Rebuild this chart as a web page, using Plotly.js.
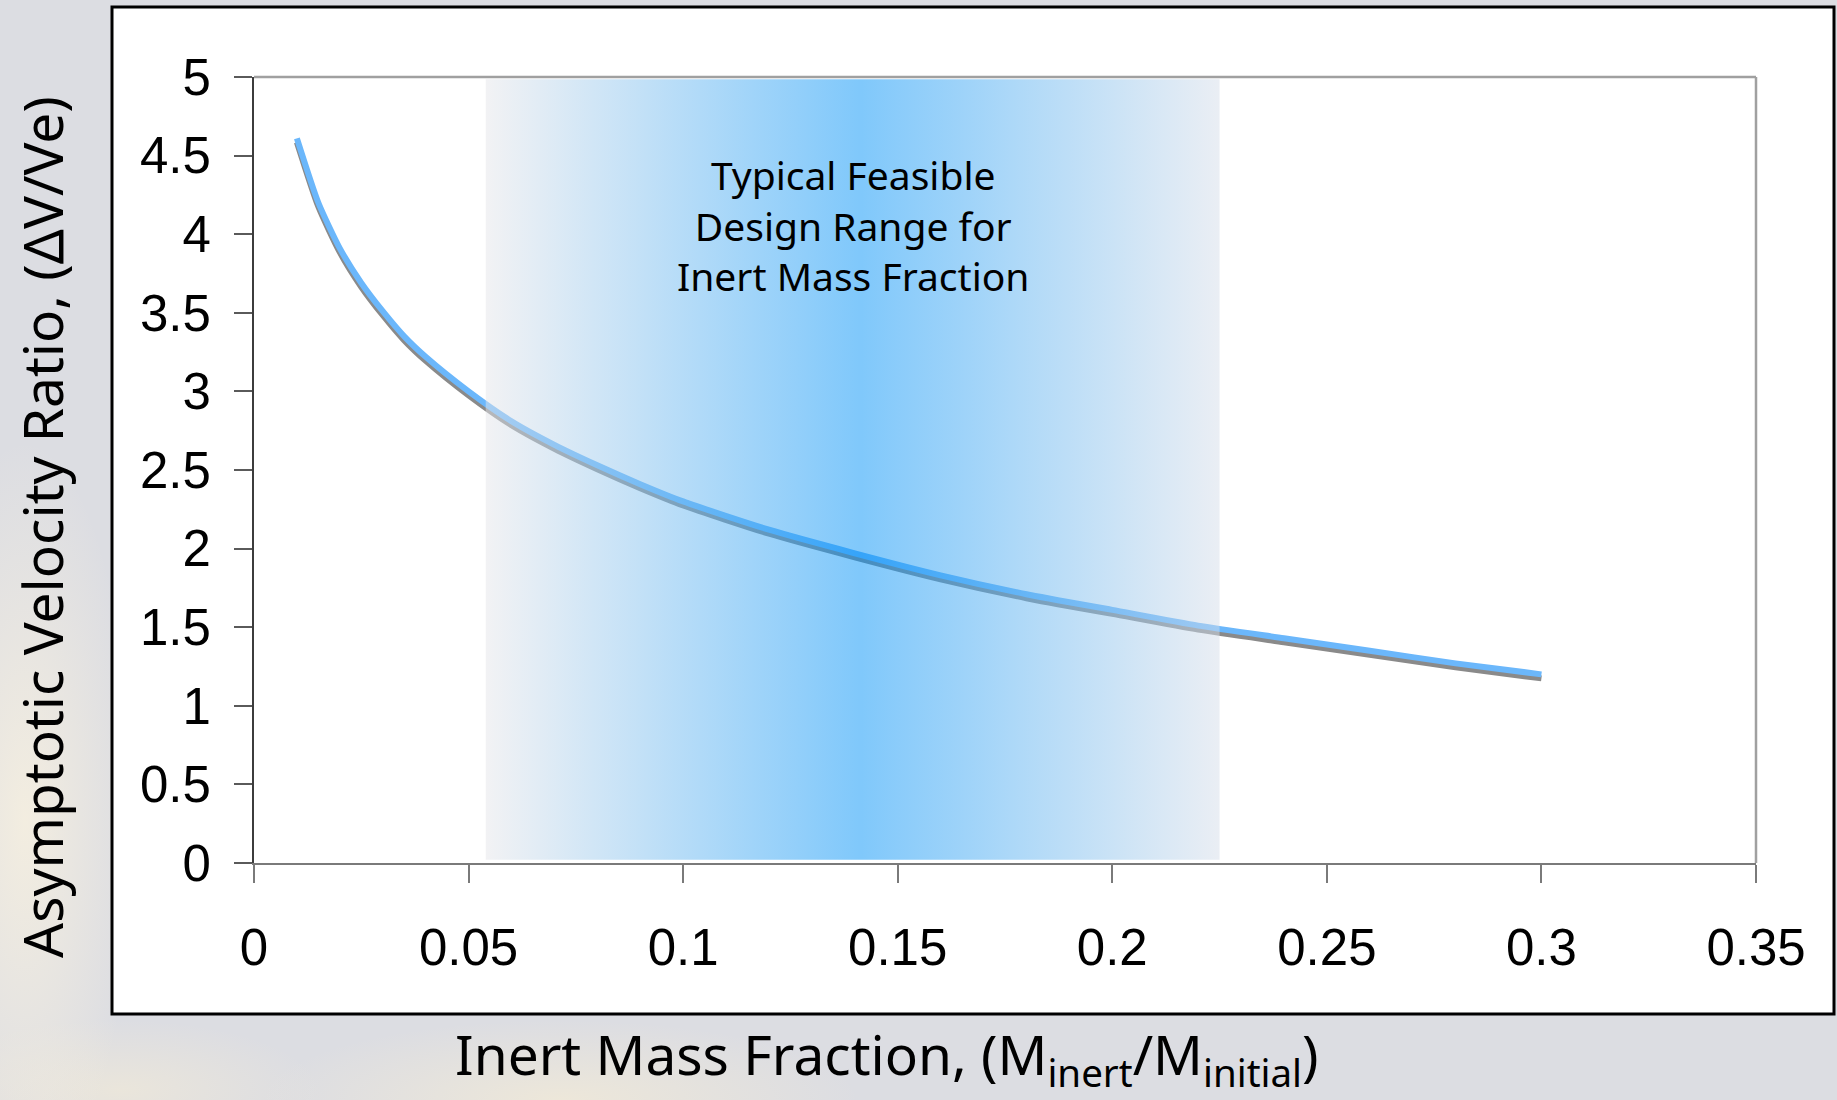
<!DOCTYPE html>
<html>
<head>
<meta charset="utf-8">
<script src="https://cdn.plot.ly/plotly-3.0.1.min.js"></script>
<style>
  html, body { margin: 0; padding: 0; }
  body {
    width: 1837px; height: 1100px; overflow: hidden;
    background:
      radial-gradient(ellipse 110px 380px at 25px 820px, rgba(244,238,224,0.95), rgba(244,238,224,0) 100%),
      radial-gradient(ellipse 300px 80px at 560px 1100px, rgba(240,233,216,0.85), rgba(240,233,216,0) 100%),
      radial-gradient(ellipse 200px 70px at 120px 1090px, rgba(240,233,216,0.7), rgba(240,233,216,0) 100%),
      #dcdde2;
  }
  #chart { width: 1837px; height: 1100px; }
</style>
</head>
<body>
<div id="chart"></div>
<script>
// ---- data ----
const inertFraction = [0.01, 0.015, 0.02, 0.025, 0.03, 0.035, 0.04, 0.05, 0.06, 0.07, 0.08, 0.09, 0.10, 0.12, 0.14, 0.16, 0.18, 0.20, 0.22, 0.24, 0.26, 0.28, 0.30];
const velocityRatio = [4.61, 4.20, 3.91, 3.69, 3.51, 3.35, 3.22, 3.00, 2.81, 2.66, 2.53, 2.41, 2.30, 2.12, 1.97, 1.83, 1.71, 1.61, 1.51, 1.43, 1.35, 1.27, 1.20];
const bandRangeX = [0.054, 0.225];
const bandRangeY = [0.02, 4.985];
const bandLabel = ['Typical Feasible', 'Design Range for', 'Inert Mass Fraction'];
const xTitle = 'Inert Mass Fraction, (M<sub>inert</sub>/M<sub>initial</sub>)';
const yTitle = 'Asymptotic Velocity Ratio, (\u0394V/Ve)';

// ---- layout geometry ----
const W = 1837, H = 1100;
const M = {l: 254, r: 81, t: 77, b: 237};
const plotW = W - M.l - M.r, plotH = H - M.t - M.b;
const px2x = p => (p - M.l) / plotW;
const px2y = p => (H - M.b - p) / plotH;
const shadowShift = 4 * 5 / plotH; // 4 px drop shadow expressed in axis units

const titleFont = {family: 'Noto Sans, sans-serif', size: 55, color: '#000'};

const shadow = {
  x: inertFraction, y: velocityRatio, xaxis: 'x', yaxis: 'y',
  mode: 'lines', line: {color: '#8a8a8a', width: 6, shape: 'spline', smoothing: 0.6},
  hoverinfo: 'skip', showlegend: false
};
const curve = {
  x: inertFraction, y: velocityRatio, xaxis: 'x', yaxis: 'y2',
  mode: 'lines', line: {color: '#6bb7fb', width: 6, shape: 'spline', smoothing: 0.6},
  showlegend: false
};
const band = {
  x: [bandRangeX[0], bandRangeX[1], bandRangeX[1], bandRangeX[0], bandRangeX[0]],
  y: [bandRangeY[0], bandRangeY[0], bandRangeY[1], bandRangeY[1], bandRangeY[0]],
  xaxis: 'x', yaxis: 'y2',
  mode: 'lines', fill: 'toself', line: {width: 0, color: 'rgba(0,0,0,0)'},
  fillgradient: {
    type: 'horizontal',
    colorscale: [
      [0, 'rgba(229,229,233,0.5)'],
      [0.51, 'rgba(0,145,247,0.5)'],
      [1, 'rgba(213,221,233,0.5)']
    ]
  },
  hoverinfo: 'skip', showlegend: false
};

const layout = {
  width: W, height: H,
  margin: M,
  paper_bgcolor: 'rgba(0,0,0,0)',
  plot_bgcolor: 'rgba(0,0,0,0)',
  showlegend: false,
  xaxis: {
    range: [0, 0.35], dtick: 0.05, tick0: 0,
    showgrid: false, zeroline: false,
    showline: true, linecolor: '#7a7a7a', linewidth: 2,
    ticks: 'outside', ticklen: 18, tickwidth: 2, tickcolor: '#7a7a7a',
    ticklabelstandoff: 21,
    tickfont: {family: 'Liberation Sans, Arial, sans-serif', size: 51, color: '#000'}
  },
  yaxis: {
    range: [shadowShift, 5 + shadowShift], visible: false, fixedrange: true
  },
  yaxis2: {
    overlaying: 'y', side: 'left',
    range: [0, 5], dtick: 0.5, tick0: 0,
    showgrid: false, zeroline: false,
    showline: true, linecolor: '#3c3c3c', linewidth: 2,
    ticks: 'outside', ticklen: 18, tickwidth: 2, tickcolor: '#5a5a5a',
    ticklabelstandoff: 13,
    tickfont: {family: 'Liberation Sans, Arial, sans-serif', size: 51, color: '#000'}
  },
  shapes: [
    {type: 'rect', xref: 'paper', yref: 'paper', layer: 'below',
     x0: px2x(112), x1: px2x(1834), y0: px2y(1014), y1: px2y(7),
     fillcolor: '#ffffff', line: {color: '#000000', width: 3}},
    {type: 'line', xref: 'paper', yref: 'paper', x0: 0, x1: 1, y0: 1, y1: 1,
     line: {color: '#a0a0a0', width: 2.5}},
    {type: 'line', xref: 'paper', yref: 'paper', x0: 1, x1: 1, y0: 0, y1: 1,
     line: {color: '#a0a0a0', width: 2.5}}
  ],
  annotations: [
    {
      xref: 'x', yref: 'y2', x: 0.1396, y: 4.06,
      text: bandLabel.join('<br>'), showarrow: false, align: 'center',
      font: {family: 'Noto Sans, sans-serif', size: 39, color: '#000'}
    },
    {
      xref: 'paper', yref: 'paper', x: px2x(887), y: px2y(1057),
      xanchor: 'center', yanchor: 'middle',
      text: xTitle, showarrow: false, font: titleFont
    },
    {
      xref: 'paper', yref: 'paper', x: px2x(41), y: px2y(527),
      xanchor: 'center', yanchor: 'middle', textangle: -90,
      text: yTitle, showarrow: false, font: titleFont
    }
  ]
};

Plotly.newPlot('chart', [shadow, curve, band], layout, {displayModeBar: false, staticPlot: true});
</script>
</body>
</html>
